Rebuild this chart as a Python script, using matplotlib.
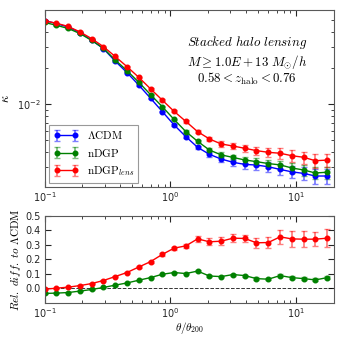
import numpy as np
import matplotlib
matplotlib.use('Agg')
import matplotlib.pyplot as plt

# theta / theta_200 bin centres
theta = [0.1, 0.124, 0.154, 0.191, 0.237, 0.294, 0.364, 0.452, 0.561, 0.696,
         0.863, 1.071, 1.328, 1.647, 2.044, 2.535, 3.146, 3.902, 4.840, 6.004,
         7.447, 9.240, 11.46, 14.22, 17.63]

# stacked convergence profiles
kappa_lcdm = [0.0494, 0.0467, 0.0437, 0.0393, 0.0340, 0.0289, 0.0228, 0.0183, 0.0144, 0.0112,
              0.00868, 0.00672, 0.00537, 0.00438, 0.00383, 0.00350, 0.00329, 0.00316, 0.00312, 0.00302,
              0.00287, 0.00274, 0.00266, 0.00253, 0.00253]
kappa_ndgp = [0.0477, 0.0452, 0.0425, 0.0386, 0.0338, 0.0291, 0.0233, 0.0190, 0.0152, 0.0120,
              0.00953, 0.00746, 0.00592, 0.00491, 0.00416, 0.00379, 0.00361, 0.00344, 0.00333, 0.00321,
              0.00313, 0.00295, 0.00284, 0.00268, 0.00272]
kappa_lens = [0.0492, 0.0470, 0.0442, 0.0398, 0.0350, 0.0300, 0.0249, 0.0205, 0.0167, 0.0134,
              0.0108, 0.00871, 0.00719, 0.00591, 0.00514, 0.00467, 0.00449, 0.00430, 0.00411, 0.00398,
              0.00391, 0.00373, 0.00362, 0.00339, 0.00343]

err_lcdm = [0.0007, 0.0006, 0.0005, 0.0004, 0.0004, 0.0003, 0.00025, 0.0002, 0.00017, 0.00014,
            0.00012, 0.00012, 0.00013, 0.00015, 0.00017, 0.0002, 0.00022, 0.00025, 0.00026, 0.00028,
            0.0003, 0.00032, 0.00033, 0.00034, 0.00035]
err_ndgp = [0.0007, 0.0006, 0.0005, 0.0004, 0.0004, 0.0003, 0.00025, 0.0002, 0.00017, 0.00014,
            0.00012, 0.00012, 0.00013, 0.00014, 0.00016, 0.00018, 0.0002, 0.00022, 0.00024, 0.00025,
            0.00027, 0.00028, 0.0003, 0.0003, 0.00031]
err_lens = [0.0007, 0.0006, 0.0005, 0.0005, 0.0004, 0.0003, 0.0003, 0.00025, 0.0002, 0.00018,
            0.00016, 0.00016, 0.00017, 0.0002, 0.00022, 0.00025, 0.00028, 0.0003, 0.00032, 0.00035,
            0.00038, 0.0004, 0.00042, 0.00045, 0.00045]

# relative difference to LCDM
rel_ndgp = [-0.034, -0.032, -0.028, -0.018, -0.007, 0.007, 0.023, 0.038, 0.057, 0.075,
            0.098, 0.110, 0.103, 0.120, 0.086, 0.082, 0.096, 0.089, 0.068, 0.064,
            0.089, 0.075, 0.068, 0.059, 0.075]
rel_lens = [-0.005, 0.002, 0.009, 0.020, 0.034, 0.055, 0.082, 0.110, 0.148, 0.185,
            0.235, 0.278, 0.294, 0.342, 0.322, 0.326, 0.347, 0.345, 0.315, 0.317,
            0.356, 0.342, 0.340, 0.340, 0.347]
err_rel_ndgp = [0.002, 0.002, 0.002, 0.002, 0.002, 0.003, 0.003, 0.003, 0.003, 0.004,
                0.004, 0.005, 0.005, 0.006, 0.006, 0.006, 0.007, 0.007, 0.008, 0.008,
                0.009, 0.009, 0.01, 0.01, 0.01]
err_rel_lens = [0.003, 0.003, 0.003, 0.003, 0.004, 0.004, 0.005, 0.005, 0.006, 0.007,
                0.008, 0.01, 0.012, 0.02, 0.025, 0.028, 0.028, 0.025, 0.035, 0.035,
                0.05, 0.055, 0.055, 0.05, 0.06]

labels = [r'$\Lambda\mathrm{CDM}$', r'$\mathrm{nDGP}$', r'$\mathrm{nDGP}_{lens}$']
colors = ['#0000ff', '#008000', '#ff0000']


def style_axis(ax):
    ax.tick_params(which='both', direction='in', top=True, right=True, labelsize=7,
                   colors='0.15', pad=2.5)
    ax.tick_params(which='major', length=4)
    ax.tick_params(which='minor', length=2)
    for s in ax.spines.values():
        s.set_color('0.35')


def draw_series(ax, x, y, err, c, label=None):
    eb = ax.errorbar(x, y, yerr=err, fmt='o-', color=c, ms=3.3, mec=c, lw=1,
                     elinewidth=1.3, capsize=2, capthick=1, label=label)
    for cap in eb[1]:
        cap.set_alpha(0.5)
    for bar in eb[2]:
        bar.set_alpha(0.5)
    return eb


fig = plt.figure(figsize=(3.38, 3.38), dpi=100)
ax1 = fig.add_axes([0.1317, 0.4467, 0.8565, 0.525])
ax2 = fig.add_axes([0.1317, 0.1036, 0.8565, 0.2574])

# top panel: kappa profiles
draw_series(ax1, theta, kappa_lcdm, err_lcdm, colors[0], labels[0])
draw_series(ax1, theta, kappa_ndgp, err_ndgp, colors[1], labels[1])
draw_series(ax1, theta, kappa_lens, err_lens, colors[2], labels[2])
ax1.set_xscale('log')
ax1.set_yscale('log')
ax1.set_xlim(0.1, 20)
ax1.set_ylim(2.05e-3, 6.1e-2)
ax1.set_ylabel(r'$\kappa$', fontsize=9, math_fontfamily='cm', labelpad=4)
style_axis(ax1)

ax1.text(0.70, 0.817, r'$Stacked\ halo\ lensing$', transform=ax1.transAxes,
         ha='center', va='center', fontsize=9.3, math_fontfamily='cm')
ax1.text(0.70, 0.704, r'$M \geq 1.0E+13\ M_{\odot}/h$', transform=ax1.transAxes,
         ha='center', va='center', fontsize=9.3, math_fontfamily='cm')
ax1.text(0.70, 0.608, r'$0.58 < z_{\rm halo} < 0.76$', transform=ax1.transAxes,
         ha='center', va='center', fontsize=9.3, math_fontfamily='cm')

leg = ax1.legend(loc='lower left', fontsize=8, fancybox=False, borderaxespad=0.4,
                 numpoints=2, handlelength=2.2, labelspacing=0.5)
leg.get_frame().set_edgecolor('0.5')
leg.get_frame().set_linewidth(0.8)
for t in leg.get_texts():
    t.set_math_fontfamily('cm')

# bottom panel: relative difference
draw_series(ax2, theta, rel_ndgp, err_rel_ndgp, colors[1])
draw_series(ax2, theta, rel_lens, err_rel_lens, colors[2])
ax2.axhline(0.0, color='k', ls='--', lw=0.7, alpha=0.8)
ax2.set_xscale('log')
ax2.set_xlim(0.1, 20)
ax2.set_ylim(-0.1, 0.5)
ax2.set_yticks([0.0, 0.1, 0.2, 0.3, 0.4, 0.5])
ax2.set_yticklabels(['0.0', '0.1', '0.2', '0.3', '0.4', '0.5'])
ax2.set_xlabel(r'$\theta/\theta_{200}$', fontsize=8, math_fontfamily='cm', labelpad=0)
ax2.set_ylabel(r'$Rel.\ diff.\ to\ \Lambda\mathrm{CDM}$', fontsize=8, math_fontfamily='cm', labelpad=2)
style_axis(ax2)

fig.savefig('out.png', dpi=100)
